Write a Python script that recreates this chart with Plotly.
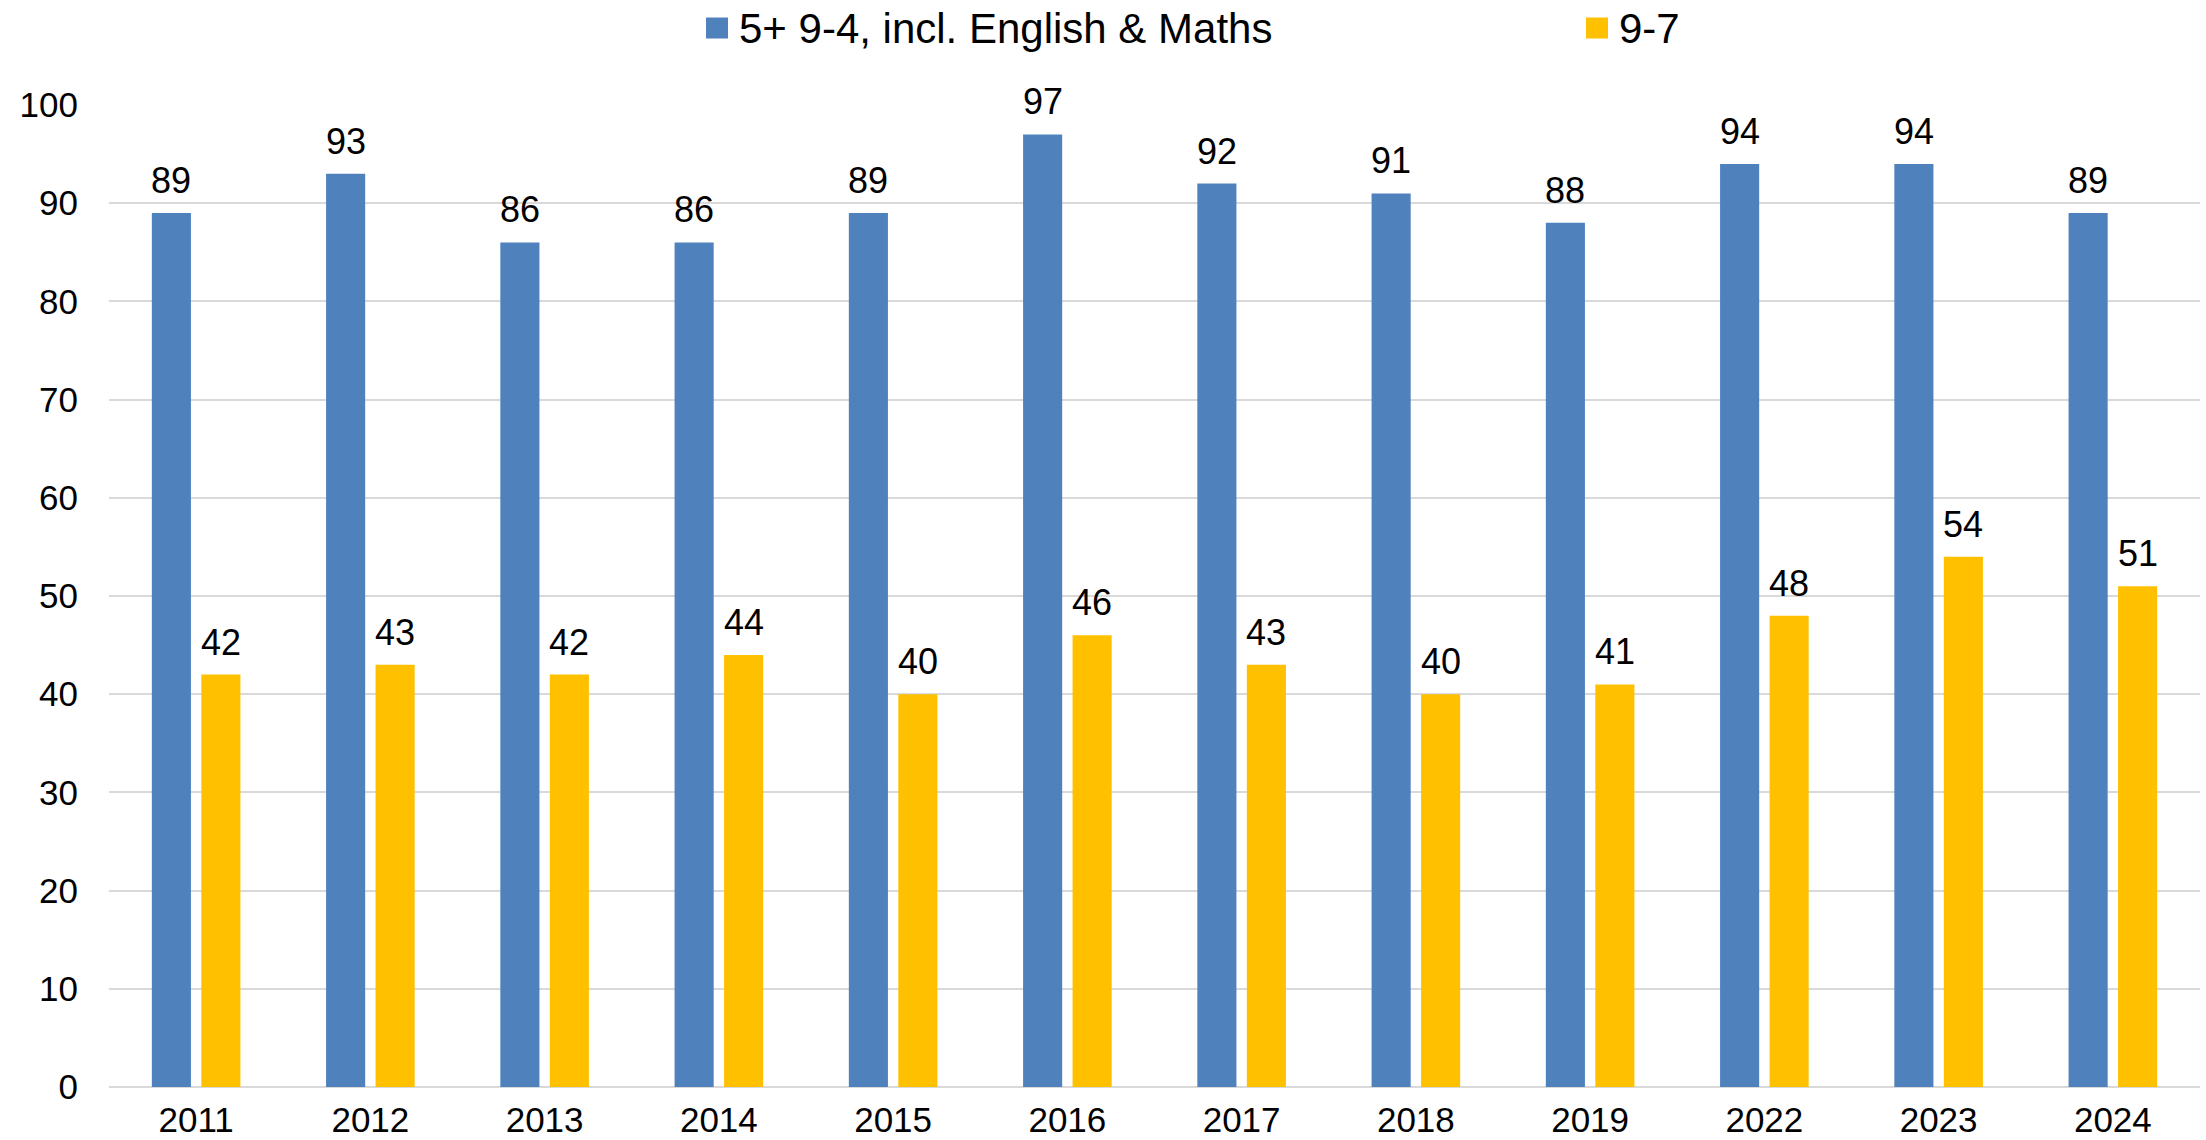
import plotly.graph_objects as go

years = ["2011", "2012", "2013", "2014", "2015", "2016", "2017", "2018", "2019", "2022", "2023", "2024"]
pass_9_4 = [89, 93, 86, 86, 89, 97, 92, 91, 88, 94, 94, 89]
grade_9_7 = [42, 43, 42, 44, 40, 46, 43, 40, 41, 48, 54, 51]
series_names = ["5+ 9-4, incl. English & Maths", "9-7"]
y_ticks = [0, 10, 20, 30, 40, 50, 60, 70, 80, 90, 100]

BLUE = "#4F81BD"
YELLOW = "#FFC000"
FONT = "Arial, Liberation Sans, sans-serif"

W, H = 2206, 1140
L, R, T, B = 109, 6, 104.5, 53.3
PW = W - L - R
PH = H - T - B
BARGAP = 0.432
BARGROUPGAP = 0.21
cat_px = PW / len(years)
slot_px = cat_px * (1 - BARGAP) / 2  # pixel width of each bar slot in a group

fig = go.Figure()
for name, vals, col in [(series_names[0], pass_9_4, BLUE), (series_names[1], grade_9_7, YELLOW)]:
    fig.add_trace(go.Bar(
        x=years, y=vals, name=name,
        marker=dict(color=col, line=dict(width=0)),
        showlegend=False, cliponaxis=False,
    ))


def px_x(p):
    return (p - L) / PW


def px_y(p):
    return (H - B - p) / PH


annotations = []
# data labels above each bar (category axis: x given as category index)
for k, vals in enumerate([pass_9_4, grade_9_7]):
    shift = (-0.5 if k == 0 else 0.5) * slot_px
    for i, v in enumerate(vals):
        annotations.append(dict(
            x=i, y=v, xref="x", yref="y", text=str(v), showarrow=False,
            xanchor="center", yanchor="bottom", xshift=shift, yshift=10,
            font=dict(family=FONT, size=36, color="#000000"),
        ))

# manual legend (square swatches + real text)
legend_items = [(series_names[0], BLUE, 706), (series_names[1], YELLOW, 1586)]
shapes = []
for name, col, sx in legend_items:
    shapes.append(dict(type="rect", xref="paper", yref="paper",
                       x0=px_x(sx), x1=px_x(sx + 22), y0=px_y(38), y1=px_y(17),
                       fillcolor=col, line=dict(width=0)))
    annotations.append(dict(text=name, xref="paper", yref="paper",
                            x=px_x(sx + 31), y=px_y(28), xanchor="left", yanchor="middle",
                            showarrow=False, font=dict(family=FONT, size=42, color="#000000")))

fig.update_layout(
    width=W, height=H,
    margin=dict(l=L, r=R, t=T, b=B, pad=0),
    paper_bgcolor="white", plot_bgcolor="white",
    barmode="group", bargap=BARGAP, bargroupgap=BARGROUPGAP,
    font=dict(family=FONT, color="#000000"),
    showlegend=False,
    shapes=shapes, annotations=annotations,
)
fig.update_xaxes(
    type="category", range=[-0.5, len(years) - 0.5],
    showgrid=False, showline=False, zeroline=False,
    ticks="", tickfont=dict(family=FONT, size=35, color="#000000"),
    ticklabelstandoff=9, automargin=False,
)
fig.update_yaxes(
    range=[0, 100], tickvals=y_ticks, ticktext=[str(v) for v in y_ticks],
    showgrid=True, gridcolor="#D9D9D9", gridwidth=1.5,
    zeroline=True, zerolinecolor="#D9D9D9", zerolinewidth=1.5,
    showline=False, ticks="",
    tickfont=dict(family=FONT, size=35, color="#000000"),
    ticklabelstandoff=30, automargin=False,
)

fig.write_html("out.html", config={"displayModeBar": False},
               post_script="document.body.style.margin='0';document.body.style.overflow='hidden';")
